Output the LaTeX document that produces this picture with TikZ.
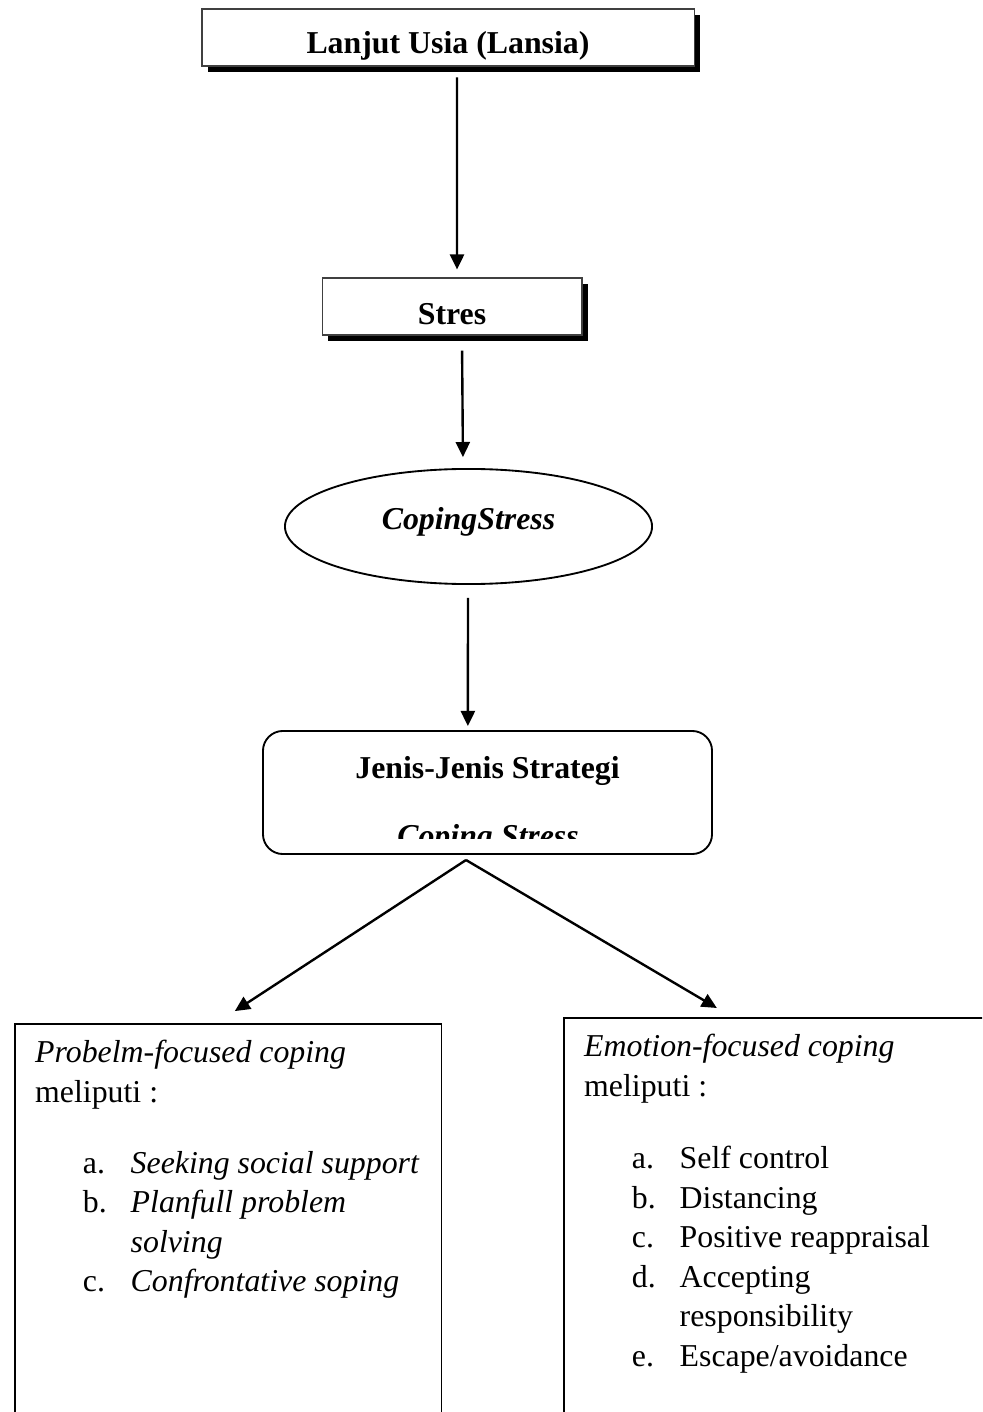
\documentclass[tikz,border=0pt]{standalone}
\usepackage{fontspec}
\setmainfont{Liberation Serif}
\usetikzlibrary{arrows.meta,shapes.geometric,shadows}

\newcommand{\itemline}[2]{\hspace*{18pt}\makebox[18pt][l]{#1}#2}
\newcommand{\itemcont}[1]{\hspace*{36pt}#1}

\begin{document}
\begin{tikzpicture}[x=0.377pt, y=-0.377pt, >={Triangle[length=5.7pt,width=5.3pt]},
  titlebox/.style={draw=black!75, line width=0.4pt, fill=white, inner sep=0pt, text depth=0pt,
    font=\fontsize{12}{15}\selectfont\bfseries,
    drop shadow={shadow xshift=2.3pt, shadow yshift=-2.3pt, fill=black, opacity=1}},
  conn/.style={->, line width=0.9pt},
  listbox/.style={draw, line width=0.6pt, anchor=north west, inner xsep=7.7pt, inner ysep=6.3pt,
    font=\fontsize{12}{14.9}\selectfont}]

\useasboundingbox (0,0) rectangle (982,1412);
\clip (0,0) rectangle (982,1412);

\node[titlebox, minimum width=185.5pt, minimum height=21.5pt, text height=11.7pt] (lansia) at (448,37.5) {Lanjut Usia (Lansia)};
\node[titlebox, minimum width=98pt, minimum height=21.5pt, text height=13.9pt] (stres) at (452,306.5) {Stres};

\node[ellipse, draw, line width=0.7pt, minimum width=138.4pt, minimum height=43.4pt, inner sep=0pt,
  text height=5pt, text depth=3pt, font=\fontsize{12}{15}\selectfont\bfseries\itshape] (coping) at (468.5,526.5) {CopingStress};

\node[draw, rounded corners=7.5pt, line width=0.7pt, minimum width=169.3pt, minimum height=46.4pt, inner sep=0pt,
  text height=0pt, text depth=10.9pt, font=\fontsize{12}{15}\selectfont\bfseries] (jenis) at (487.5,792.5) {Jenis-Jenis Strategi};
\begin{scope}
  \clip (263,731) rectangle (712,838);
  \node[anchor=base, font=\fontsize{12}{15}\selectfont\bfseries\itshape] (jenissub) at (488,846) {Coping Stress};
\end{scope}

% bottom boxes
\node[listbox] (probbox) at (14,1023) {\parbox[t][160pt][t]{145.5pt}{\raggedright
  \textit{Probelm-focused coping}\\
  meliputi :\\[11.8pt]
  \itemline{a.}{\textit{Seeking social support}}\\
  \itemline{b.}{\textit{Planfull problem}}\\
  \itemcont{\textit{solving}}\\
  \itemline{c.}{\textit{Confrontative soping}}}};
\node[listbox] (emobox) at (563,1017) {\parbox[t][160pt][t]{150pt}{\raggedright
  \textit{Emotion-focused coping}\\
  meliputi :\\[12.3pt]
  \itemline{a.}{Self control}\\
  \itemline{b.}{Distancing}\\
  \itemline{c.}{Positive reappraisal}\\
  \itemline{d.}{Accepting}\\
  \itemcont{responsibility}\\
  \itemline{e.}{Escape/avoidance}}};

\draw[conn] ([xshift=3.4pt,yshift=-4.1pt]lansia.south) -- ([xshift=1.9pt,yshift=3pt]stres.north);
\draw[conn] ([xshift=3.8pt,yshift=-5.7pt]stres.south) -- ([xshift=-2.1pt,yshift=4.1pt]coping.north);
\draw[conn] ([xshift=-0.2pt,yshift=-4.9pt]coping.south) -- ([xshift=-7.4pt,yshift=1.5pt]jenis.north);

\coordinate (fork) at ([xshift=-8.1pt,yshift=-1.9pt]jenis.south);
\coordinate (probtip) at ([xshift=2.5pt,yshift=4.5pt]probbox.north);
\coordinate (emotip) at ([xshift=58pt,yshift=3.4pt]emobox.north west);
\draw[conn] (fork) -- (probtip);
\draw[conn] (fork) -- (emotip);

\end{tikzpicture}
\end{document}
